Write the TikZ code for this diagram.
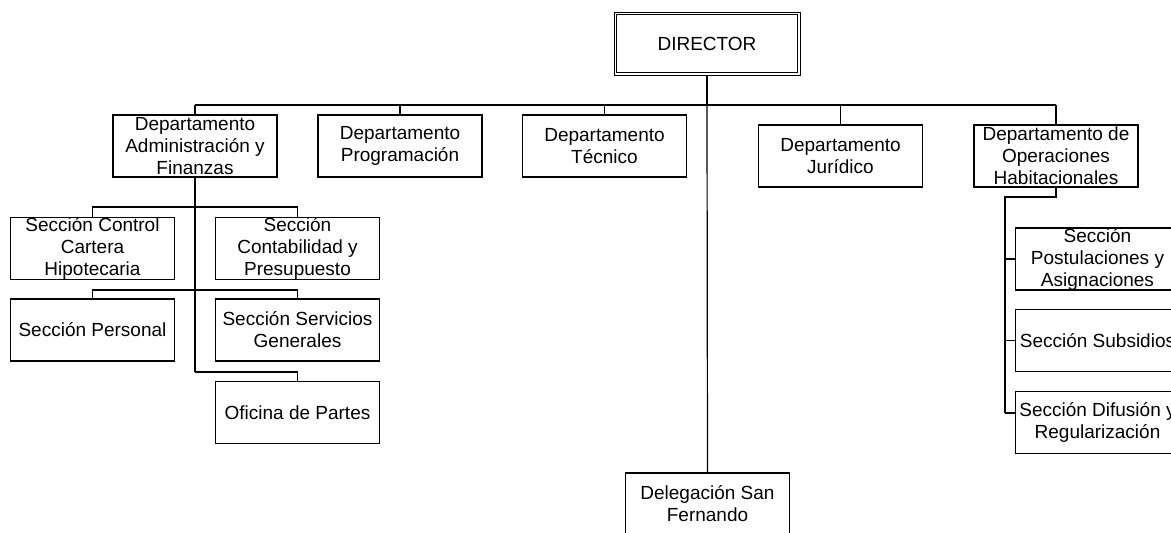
\documentclass[tikz,border=0pt]{standalone}
\usepackage{fontspec}
\setmainfont{Liberation Sans}
\begin{document}
\begin{tikzpicture}[x=1pt,y=-1pt]
\tikzstyle{every node}+=[inner sep=0pt,font=\fontsize{19}{22}\selectfont,align=center]
\tikzstyle{caja}=[draw,line width=1.2pt,minimum width=164pt,minimum height=62pt]
\tikzstyle{linea}=[line width=1.2pt]
\tikzstyle{gruesa}=[line width=2pt]
\useasboundingbox (0,0) rectangle (1171,533);
\clip (0,0) rectangle (1171,533);
\node [draw,line width=1pt,minimum width=186pt,minimum height=63pt] (director) at (707,43.5) {DIRECTOR};
\draw [line width=1pt] ([shift={(3,3)}]director.north west) rectangle ([shift={(-3,-3)}]director.south east);
\node [caja] (admin) at (195,146) {Departamento\\Administración y\\Finanzas};
\node [caja] (prog) at (400,146) {Departamento\\Programación};
\node [caja] (tec) at (604.5,146) {Departamento\\Técnico};
\node [caja] (jur) at (840.5,156) {Departamento\\Jurídico};
\node [caja] (ops) at (1056,156) {Departamento de\\Operaciones\\Habitacionales};
\node [caja] (control) at (92.5,248.5) {Sección Control\\Cartera\\Hipotecaria};
\node [caja] (conta) at (297.5,248.5) {Sección\\Contabilidad y\\Presupuesto};
\node [caja] (personal) at (92.5,330) {Sección Personal};
\node [caja] (servicios) at (297.5,330) {Sección Servicios\\Generales};
\node [caja] (oficina) at (297.5,412.5) {Oficina de Partes};
\node [caja] (postu) at (1097.5,259) {Sección\\Postulaciones y\\Asignaciones};
\node [caja] (subsi) at (1097.5,340.5) {Sección Subsidios};
\node [caja] (difu) at (1097.5,422.5) {Sección Difusión y\\Regularización};
\node [caja] (deleg) at (707.5,504) {Delegación San\\Fernando};
\coordinate (cruce) at (707,105);
\coordinate (sub1) at (195,207);
\coordinate (sub2) at (195,290);
\coordinate (ofi) at (195,372);
\coordinate (espina) at (1005,197);
\coordinate (espinafin) at (1005,413);
\draw [gruesa] (director.south) -- (cruce);
\draw [gruesa] (cruce -| admin.north) -- (cruce -| ops.north);
\foreach \d in {admin,prog,tec,jur,ops}
  \draw [linea] (cruce -| \d.north) -- (\d.north);
\draw [linea] (cruce) -- (deleg.north);
\draw [gruesa] (admin.south) -- (ofi);
\draw [linea] (ofi) -| (oficina.north);
\draw [linea] (control.north) |- (sub1) -| (conta.north);
\draw [linea] (personal.north) |- (sub2) -| (servicios.north);
\draw [gruesa] (ops.south) |- (espina) -- (espinafin);
\draw [linea] (espina |- postu.west) -- (postu.west);
\draw [linea] (espina |- subsi.west) -- (subsi.west);
\draw [linea] (espinafin) -- (espinafin -| difu.west);
\end{tikzpicture}
\end{document}
